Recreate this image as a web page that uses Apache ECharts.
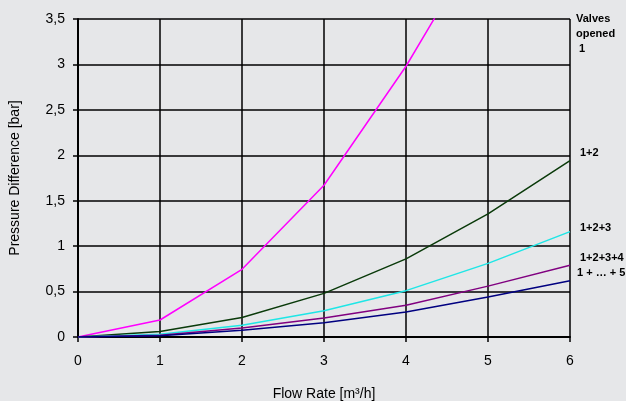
<!DOCTYPE html>
<html><head><meta charset="utf-8">
<script src="https://cdn.jsdelivr.net/npm/echarts@6/dist/echarts.min.js"></script>
<style>html,body{margin:0;padding:0;background:#E6E7E9}#c{width:626px;height:401px}</style>
</head><body><div id="c"></div>
<script>
const flowRates = [0, 1, 2, 3, 4, 5, 6];
const valves1 = [0, 0.187, 0.745, 1.67, 2.98, 4.5, 6.7];
const valves12 = [0, 0.06, 0.215, 0.48, 0.86, 1.355, 1.94];
const valves123 = [0, 0.03, 0.13, 0.29, 0.51, 0.81, 1.16];
const valves1234 = [0, 0.02, 0.10, 0.21, 0.35, 0.56, 0.79];
const valves12345 = [0, 0.015, 0.075, 0.157, 0.275, 0.44, 0.62];
const yTicks = ['0','0,5','1','1,5','2','2,5','3','3,5'];
const seriesNames = ['1', '1+2', '1+2+3', '1+2+3+4', '1 + … + 5'];
const seriesColors = ['#FF00FF', '#0A3A0A', '#1EE6E6', '#800080', '#000080'];
const seriesValues = [valves1, valves12, valves123, valves1234, valves12345];

const chart = echarts.init(document.getElementById('c'));
const lbl = {fontFamily: 'Liberation Sans, Arial, sans-serif', fontWeight: 'bold', fontSize: 11, fill: '#000'};
chart.setOption({
  backgroundColor: '#E6E7E9',
  animation: false,
  grid: {left: 78, right: 56, top: 19, bottom: 64, containLabel: false, outerBoundsMode: 'none'},
  xAxis: {
    type: 'value', min: 0, max: 6, interval: 1,
    name: 'Flow Rate [m³/h]', nameLocation: 'middle', nameGap: 50,
    nameTextStyle: {fontFamily: 'Liberation Sans, Arial', fontSize: 14, color: '#000'},
    axisLine: {show: true, lineStyle: {color: '#000', width: 2}},
    axisTick: {show: true, length: 5, lineStyle: {color: '#000', width: 1.5}},
    axisLabel: {fontFamily: 'Liberation Sans, Arial', fontSize: 14, color: '#000', margin: 17},
    splitLine: {show: true, lineStyle: {color: '#000', width: 1.5}}
  },
  yAxis: {
    type: 'value', min: 0, max: 3.5, interval: 0.5,
    name: 'Pressure Difference [bar]', nameLocation: 'middle', nameGap: 56, nameRotate: 90,
    nameTextStyle: {fontFamily: 'Liberation Sans, Arial', fontSize: 14, color: '#000'},
    axisLine: {show: true, lineStyle: {color: '#000', width: 2}},
    axisTick: {show: true, length: 5, lineStyle: {color: '#000', width: 1.5}},
    axisLabel: {fontFamily: 'Liberation Sans, Arial', fontSize: 14, color: '#000', margin: 13,
      formatter: v => yTicks[Math.round(v * 2)]},
    splitLine: {show: true, lineStyle: {color: '#000', width: 1.5}}
  },
  series: seriesValues.map((vals, i) => ({
    type: 'line', name: seriesNames[i], clip: true,
    data: flowRates.map((x, j) => [x, vals[j]]),
    showSymbol: false, smooth: false,
    lineStyle: {color: seriesColors[i], width: 1.5}, itemStyle: {color: seriesColors[i]}
  })),
  graphic: [
    {type: 'text', left: 576, top: 11, style: Object.assign({text: 'Valves\nopened\n 1', lineHeight: 15}, lbl)},
    {type: 'text', left: 580, top: 147, style: Object.assign({text: '1+2'}, lbl)},
    {type: 'text', left: 580, top: 222, style: Object.assign({text: '1+2+3'}, lbl)},
    {type: 'text', left: 580, top: 252, style: Object.assign({text: '1+2+3+4'}, lbl)},
    {type: 'text', left: 577, top: 267, style: Object.assign({text: '1 + … + 5'}, lbl)}
  ]
});
</script></body></html>
